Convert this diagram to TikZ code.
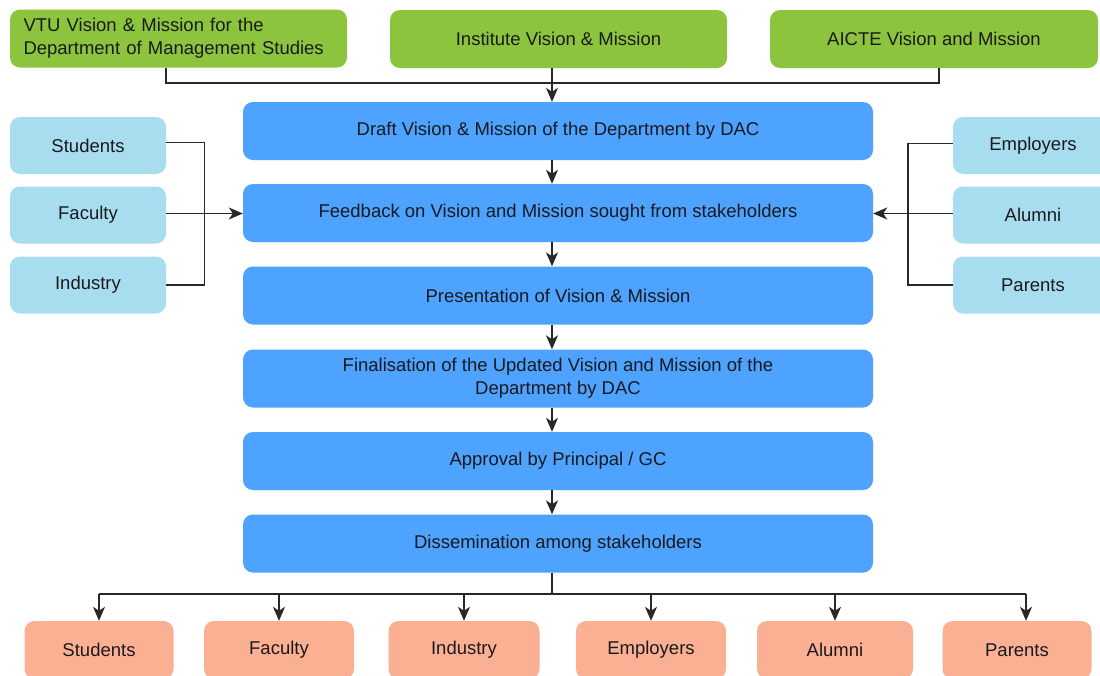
\documentclass[tikz,border=0pt]{standalone}
\usepackage{fontspec}
\setmainfont{Liberation Sans}
\usetikzlibrary{arrows.meta}
\definecolor{srcgreen}{RGB}{140,196,62}
\definecolor{stepblue}{RGB}{77,163,255}
\definecolor{holderblue}{RGB}{168,221,240}
\definecolor{outsalmon}{RGB}{251,176,148}
\definecolor{inkdark}{RGB}{26,26,30}
\definecolor{wiregrey}{RGB}{40,40,40}
\begin{document}
\begin{tikzpicture}[x=1pt,y=-1pt,
  every node/.style={font=\fontsize{18.5}{23}\selectfont, text=inkdark},
  boxbase/.style={rounded corners=10pt, draw=none, inner sep=0pt, align=center},
  srcbox/.style={boxbase, fill=srcgreen, minimum height=58pt},
  stepbox/.style={boxbase, fill=stepblue, minimum width=630pt, minimum height=58pt},
  holderbox/.style={boxbase, fill=holderblue, minimum height=57pt},
  outbox/.style={boxbase, fill=outsalmon, minimum height=58pt},
  wire/.style={draw=wiregrey, line width=1.4pt},
  flow/.style={wire, -{Stealth[length=14pt,width=12pt,inset=4pt]}}
]
\useasboundingbox (0,0) rectangle (1100,675);
\fill[white] (0,0) rectangle (1100,675);

% guide lines for the arrows
\coordinate (spine) at (552,0);
\coordinate (topbus) at (0,83);
\coordinate (botbus) at (0,594);

% sources of the vision and mission
\node[srcbox, minimum width=337pt, text width=310pt, align=left] (vtu) at (178.5,38.5)
  {VTU Vision \& Mission for the\\Department of Management Studies};
\node[srcbox, minimum width=337pt] (inst) at (558.5,39) {Institute Vision \& Mission};
\node[srcbox, minimum width=328pt] (aicte) at (934,39) {AICTE Vision and Mission};

% main process steps
\node[stepbox] (draft) at (558,131) {Draft Vision \& Mission of the Department by DAC};
\node[stepbox] (feed)  at (558,213) {Feedback on Vision and Mission sought from stakeholders};
\node[stepbox] (pres)  at (558,295.5) {Presentation of Vision \& Mission};
\node[stepbox] (final) at (558,378.5) {Finalisation of the Updated Vision and Mission of the\\Department by DAC};
\node[stepbox] (appr)  at (558,461) {Approval by Principal / GC};
\node[stepbox] (diss)  at (558,543.5) {Dissemination among stakeholders};

% stakeholders giving feedback
\node[holderbox, minimum width=156pt] (lstud) at (88,145.5) {Students};
\node[holderbox, minimum width=156pt] (lfac)  at (88,215) {Faculty};
\node[holderbox, minimum width=156pt] (lind)  at (88,285) {Industry};
\node[holderbox, minimum width=160pt] (remp) at (1033,145.5) {Employers};
\node[holderbox, minimum width=160pt] (ralu) at (1033,215) {Alumni};
\node[holderbox, minimum width=160pt] (rpar) at (1033,285) {Parents};

% stakeholders receiving the result
\node[outbox, minimum width=149pt] (ostud) at (99,650) {Students};
\node[outbox, minimum width=150pt] (ofac)  at (279,650) {Faculty};
\node[outbox, minimum width=151pt] (oind)  at (464,650) {Industry};
\node[outbox, minimum width=150pt] (oemp)  at (651,650) {Employers};
\node[outbox, minimum width=156pt] (oalu)  at (835,650) {Alumni};
\node[outbox, minimum width=149pt] (opar)  at (1017,650) {Parents};

% sources feeding the draft
\draw[wire] ([xshift=-12.5pt]vtu.south) |- (topbus -| aicte.south) -| ([xshift=5pt]aicte.south);
\draw[flow] (inst.south -| spine) -- (draft.north -| spine);

% step to step
\draw[flow] (draft.south -| spine) -- (feed.north -| spine);
\draw[flow] (feed.south -| spine) -- (pres.north -| spine);
\draw[flow] (pres.south -| spine) -- (final.north -| spine);
\draw[flow] (final.south -| spine) -- (appr.north -| spine);
\draw[flow] (appr.south -| spine) -- (diss.north -| spine);

% feedback brackets
\draw[wire] ([yshift=3pt]lstud.east) -| ([xshift=38pt]lind.east) -- (lind.east);
\draw[flow] ([yshift=1.5pt]lfac.east) -- ([yshift=1.5pt]lfac.east -| feed.west);
\draw[wire] ([yshift=2pt]remp.west) -| ([xshift=-45pt]rpar.west) -- (rpar.west);
\draw[flow] ([yshift=1.5pt]ralu.west) -- ([yshift=1.5pt]ralu.west -| feed.east);

% dissemination fan-out
\draw[wire] (diss.south -| spine) -- (botbus -| spine);
\draw[wire] (botbus -| ostud.north) -- ([xshift=9pt]botbus -| opar.north);
\draw[flow] (botbus -| ostud.north) -- (ostud.north);
\draw[flow] (botbus -| ofac.north) -- (ofac.north);
\draw[flow] (botbus -| oind.north) -- (oind.north);
\draw[flow] (botbus -| oemp.north) -- (oemp.north);
\draw[flow] (botbus -| oalu.north) -- (oalu.north);
\draw[flow] ([xshift=9pt]botbus -| opar.north) -- ([xshift=9pt]opar.north);
\end{tikzpicture}
\end{document}
